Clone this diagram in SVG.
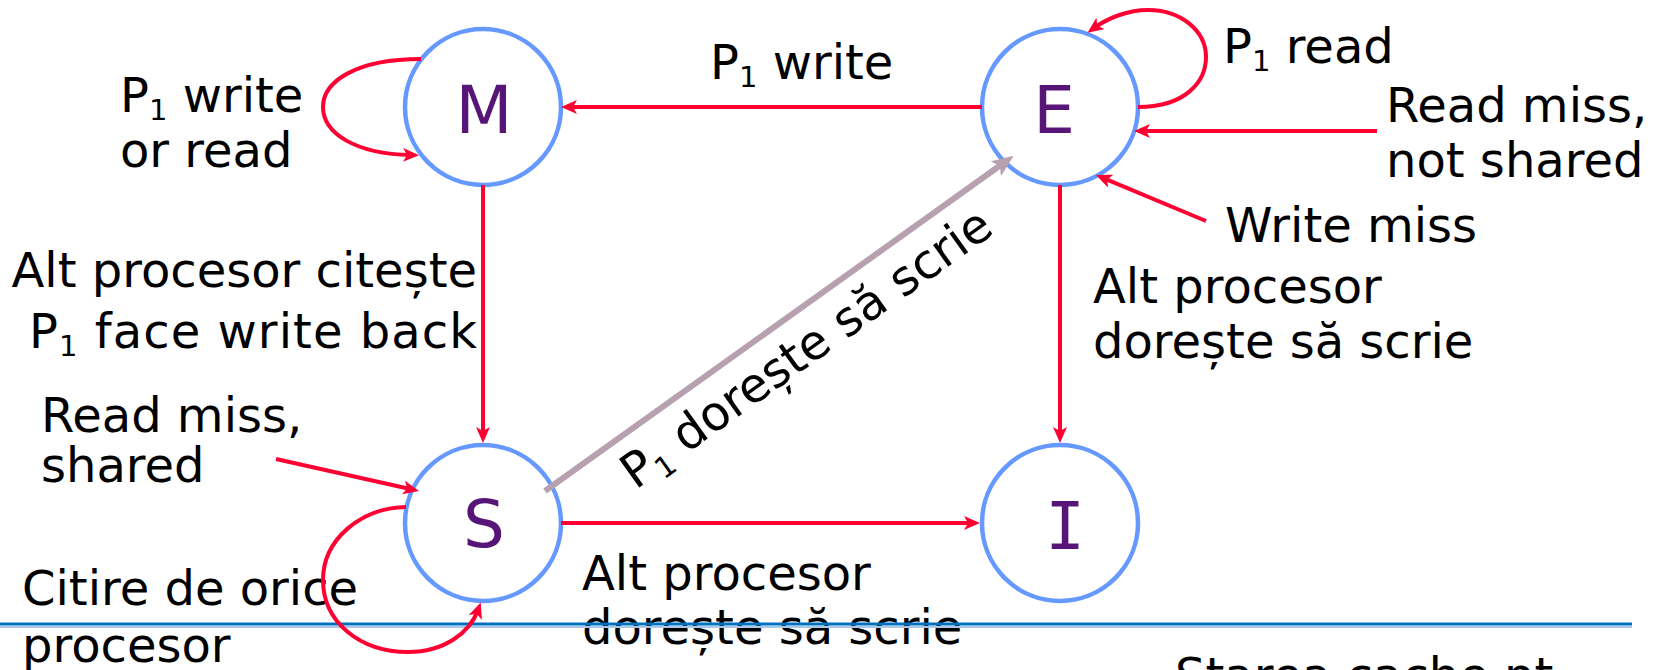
<svg xmlns="http://www.w3.org/2000/svg" width="1658" height="670" viewBox="0 0 1658 670">
  <style>
    .state { fill: none; stroke: #6699ff; stroke-width: 4.5; }
    .letter { font-family: "DejaVu Sans", Verdana, sans-serif; font-size: 66px; fill: #571578; text-anchor: middle; }
    .label { font-family: "DejaVu Sans", Verdana, sans-serif; font-size: 48px; fill: #000; }
    .edge { fill: none; stroke: #ff0033; stroke-width: 4; marker-end: url(#ah-red); }
    .edge-alt { fill: none; stroke: #b7a1b0; stroke-width: 6; marker-end: url(#ah-gray); }
  </style>
  <defs>
    <marker id="ah-red" viewBox="0 0 16 14" refX="8" refY="7" markerWidth="16" markerHeight="14" orient="auto" markerUnits="userSpaceOnUse">
      <path d="M0,0 L16,7 L0,14 L4,7 z" fill="#ff0033"/>
    </marker>
    <marker id="ah-gray" viewBox="0 0 22 18" refX="10" refY="9" markerWidth="22" markerHeight="18" orient="auto" markerUnits="userSpaceOnUse">
      <path d="M0,0 L22,9 L0,18 L5,9 z" fill="#b7a1b0"/>
    </marker>
  </defs>

  <rect width="1658" height="670" fill="#ffffff"/>

  <!-- transition labels -->
  <g id="labels">
    <text class="label" x="710" y="79">P<tspan font-size="29" dy="8">1</tspan><tspan dy="-8"> write</tspan></text>
    <text class="label" x="120" y="112">P<tspan font-size="29" dy="8">1</tspan><tspan dy="-8"> write</tspan></text>
    <text class="label" x="120" y="167">or read</text>
    <text class="label" x="1223" y="63">P<tspan font-size="29" dy="8">1</tspan><tspan dy="-8"> read</tspan></text>
    <text class="label" x="1386" y="122">Read miss,</text>
    <text class="label" x="1386" y="177">not shared</text>
    <text class="label" x="1225" y="242">Write miss</text>
    <text class="label" x="477" y="287" text-anchor="end">Alt procesor citește</text>
    <text class="label" x="29" y="348" textLength="448" lengthAdjust="spacing">P<tspan font-size="29" dy="8">1</tspan><tspan dy="-8"> face write back</tspan></text>
    <text class="label" x="41" y="432">Read miss,</text>
    <text class="label" x="41" y="482">shared</text>
    <text class="label" x="1093" y="303">Alt procesor</text>
    <text class="label" x="1093" y="358">dorește să scrie</text>
    <text class="label" x="22" y="605">Citire de orice</text>
    <text class="label" x="22" y="662">procesor</text>
    <text class="label" x="582" y="590">Alt procesor</text>
    <text class="label" x="582" y="644">dorește să scrie</text>
    <text class="label" transform="translate(545,491) rotate(-35.57)" x="74" y="52">P<tspan font-size="29" dy="8">1</tspan><tspan dy="-8"> dorește să scrie</tspan></text>
    <text class="label" x="1175" y="692" font-size="53">Starea cache pt</text>
  </g>

  <!-- slide footer rule -->
  <g id="footer-rule">
    <line x1="0" y1="627" x2="1632" y2="627" stroke="#a9c9e8" stroke-width="2"/>
    <line x1="0" y1="624" x2="1632" y2="624" stroke="#0070c0" stroke-width="3"/>
  </g>

  <!-- states -->
  <g id="node-M">
    <circle class="state" cx="483" cy="107" r="78"/>
    <text class="letter" x="484" y="133">M</text>
  </g>
  <g id="node-E">
    <circle class="state" cx="1060" cy="107" r="78"/>
    <text class="letter" x="1054" y="133">E</text>
  </g>
  <g id="node-S">
    <circle class="state" cx="483" cy="523" r="78"/>
    <text class="letter" x="484" y="547">S</text>
  </g>
  <g id="node-I">
    <circle class="state" cx="1060" cy="523" r="78"/>
    <text class="letter" x="1065" y="549" style="font-family: 'DejaVu Sans Mono', monospace;">I</text>
  </g>

  <!-- transitions -->
  <g id="connectors">
    <path class="edge" d="M982,107 L569,107"/>
    <path class="edge" d="M483,185 L483,435"/>
    <path class="edge" d="M1060,185 L1060,435"/>
    <path class="edge" d="M561,523 L972,523"/>
    <path class="edge" d="M1377,131 L1142,131"/>
    <path class="edge" d="M1206,221 L1103.4,178.1"/>
    <path class="edge" d="M276,459 L411.2,489.3"/>
    <path class="edge" d="M421,59 C355,59 323,82 323,107 C323,133 355,154 411,155"/>
    <path class="edge" d="M1138,107 C1185,107 1206,82 1206,57 C1206,30 1180,10 1148,10 C1128,10 1108,18 1094,28"/>
    <path class="edge" d="M406,507 C360,508 323,540 323,580 C323,622 360,652 408,652 C445,652 470,632 478,610"/>
    <path class="edge-alt" d="M545,491 L1003.9,162.8"/>
  </g>
</svg>
